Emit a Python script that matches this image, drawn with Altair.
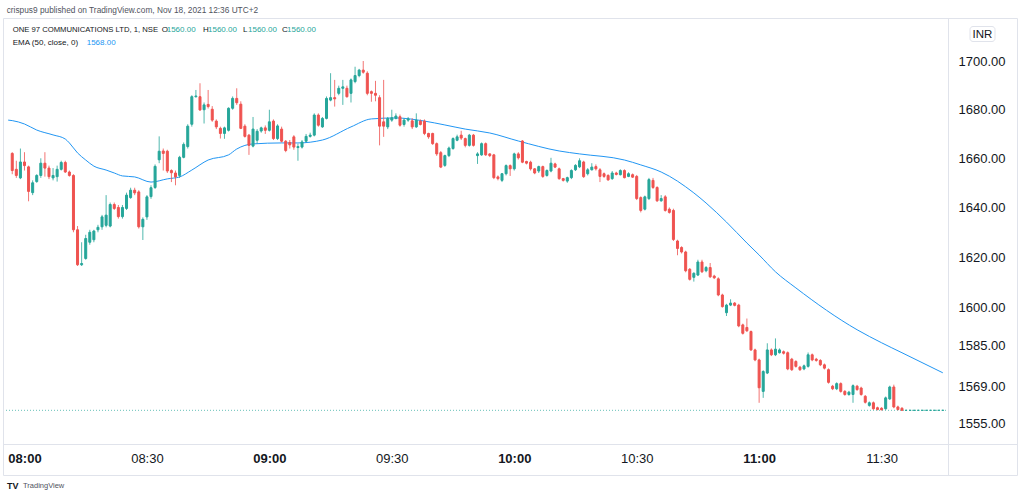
import altair as alt
import pandas as pd

# ---------------- data ----------------
open_ = [
    1662, 1655.5, 1652, 1658.5, 1656.5, 1646, 1650.5, 1653, 1658, 1656,
    1652, 1652.5, 1655.5, 1658.3, 1654.4, 1653, 1631, 1617, 1619.5, 1626,
    1627, 1631, 1632.2, 1632.8, 1632.5, 1641.2, 1640, 1636.3, 1639.6, 1644,
    1647, 1646.3, 1632.2, 1636.2, 1644.4, 1648.1, 1659.4, 1663, 1662.9, 1655,
    1654, 1653, 1660.4, 1664.8, 1674, 1685.4, 1685.4, 1680, 1682.2, 1680.2,
    1675.3, 1672.3, 1670.2, 1671.5, 1680.6, 1684.7, 1682.3, 1673.2, 1669.5, 1665,
    1667.4, 1671.2, 1672.5, 1671.5, 1675.3, 1668.1, 1672, 1667, 1666.5, 1668.8,
    1664.4, 1664.6, 1667, 1669, 1669.5, 1677.8, 1672.9, 1676.4, 1684, 1685,
    1686.8, 1688.9, 1688.9, 1686.8, 1691.7, 1694.2, 1696.5, 1695.2, 1687.5, 1686.8,
    1685, 1675, 1672.9, 1675.7, 1676.4, 1677.1, 1673.9, 1675.7, 1675.4, 1672.9,
    1675.3, 1675.3, 1670.2, 1670.2, 1666, 1662.3, 1657.1, 1661.1, 1664, 1667.4,
    1669.5, 1668.1, 1665.3, 1669.5, 1661.1, 1661.4, 1666, 1661.8, 1661.4, 1652.4,
    1651, 1653.7, 1657, 1655.7, 1661.8, 1667.1, 1658.7, 1658.4, 1655.7, 1654.8,
    1656.6, 1653, 1654.8, 1657.7, 1655.7, 1651.7, 1650.7, 1652.1, 1655.3, 1656.5,
    1658.5, 1653.7, 1655.3, 1656.6, 1655.3, 1653.7, 1653, 1651.7, 1654, 1653.3,
    1655, 1652.6, 1653.3, 1652.6, 1644, 1639.3, 1643.6, 1651, 1648.1, 1642.7,
    1644.3, 1639.3, 1638.8, 1626.5, 1623.9, 1622.1, 1615.2, 1612, 1612.9, 1618.1,
    1614.6, 1615.9, 1612.5, 1611.4, 1605, 1598, 1601, 1601.8, 1601, 1593.2,
    1592.2, 1590.6, 1583.4, 1579.5, 1567.3, 1574.4, 1583.4, 1581.5, 1582.3, 1582.7,
    1582.3, 1579.8, 1578.9, 1576.7, 1576, 1577, 1581.5, 1579.8, 1579.3, 1577.6,
    1575.7, 1569.3, 1568.3, 1570.3, 1567.3, 1566.1, 1566.1, 1569.3, 1568.6, 1565.4,
    1561.9, 1562.9, 1561, 1560.8, 1560.6, 1564.4, 1569, 1561.3, 1560.8,
    1560, 1560, 1560, 1560, 1560, 1560, 1560, 1560, 1560, 1560,
]
high_ = [
    1662.5, 1659, 1664, 1662.5, 1657, 1651, 1653.5, 1660, 1662.5, 1657,
    1656, 1657, 1659, 1659, 1655, 1653.5, 1632.5, 1626, 1629, 1631,
    1631, 1633, 1637, 1645, 1642, 1642, 1641, 1641, 1646, 1648,
    1648, 1647, 1636, 1645, 1649, 1657.5, 1669, 1664, 1663.5, 1655.5,
    1655, 1661, 1666.5, 1674, 1686, 1688.2, 1691, 1683, 1688.2, 1681.5,
    1676, 1673, 1673, 1681, 1685.5, 1688.9, 1683.5, 1674, 1670, 1677,
    1672, 1673, 1673.5, 1680, 1676, 1674, 1673, 1667.5, 1667.5, 1669.5,
    1666, 1667.5, 1670, 1670.5, 1678.5, 1678.5, 1677, 1685.5, 1695.2, 1692.4,
    1690, 1692.4, 1690, 1693, 1697.9, 1697, 1700.3, 1696, 1688, 1692,
    1686, 1692.4, 1677, 1680, 1678.5, 1678, 1676.5, 1677, 1676.5, 1678.5,
    1676, 1676, 1670.5, 1670.5, 1666.5, 1663, 1661.5, 1664.8, 1668.6, 1669.7,
    1671.3, 1668.5, 1670, 1670, 1662.5, 1666.5, 1666.5, 1662, 1661.8, 1653,
    1654, 1657.5, 1657.5, 1662.3, 1662.5, 1667.5, 1659, 1659, 1656, 1657,
    1657, 1655.5, 1660.2, 1658.2, 1656.2, 1652, 1652.5, 1655.5, 1657.6, 1660,
    1659, 1656, 1658, 1657.5, 1656, 1654.2, 1653.5, 1654.8, 1654.5, 1655.5,
    1655.5, 1654.3, 1653.8, 1653.2, 1644.5, 1644.8, 1652, 1652, 1648.6, 1645,
    1645, 1640, 1639.5, 1627, 1624.4, 1622.6, 1615.7, 1614, 1619, 1619,
    1616.5, 1617.7, 1613, 1612, 1605.5, 1601.5, 1603.3, 1602.2, 1601.5, 1593.7,
    1595.7, 1591, 1583.9, 1580, 1575.5, 1586, 1584, 1587.9, 1584, 1583.2,
    1582.8, 1580.3, 1579.4, 1577.2, 1577.7, 1582.4, 1582, 1580.3, 1579.8, 1578.1,
    1576.2, 1569.8, 1570.8, 1570.8, 1567.8, 1567.5, 1570, 1569.8, 1569.1, 1565.9,
    1563.4, 1563.4, 1561.4, 1561.2, 1565.3, 1569.5, 1569.9, 1561.8, 1561.2,
    1560, 1560, 1560, 1560, 1560, 1560, 1560, 1560, 1560, 1560,
]
low_ = [
    1653.5, 1652, 1651.5, 1655, 1642.5, 1645, 1650, 1652, 1652.5, 1651.5,
    1651, 1650.5, 1655, 1654, 1652.5, 1630, 1616.5, 1616.5, 1619, 1625,
    1626, 1630, 1631, 1632, 1632, 1639, 1635.5, 1635.5, 1639, 1643.5,
    1645, 1631.5, 1626.9, 1635, 1643.5, 1647.5, 1658, 1655, 1654, 1650.3,
    1649, 1652, 1660, 1664, 1673, 1685, 1679.5, 1674.3, 1680.5, 1675,
    1672, 1668.1, 1668, 1671, 1680, 1682, 1672, 1668.5, 1661.4, 1664.5,
    1666, 1670.5, 1670, 1671, 1667.5, 1667.5, 1666.5, 1662.5, 1664, 1663.5,
    1659, 1664, 1666.5, 1668.5, 1669, 1673, 1672.5, 1676, 1683.5, 1681.3,
    1686, 1682, 1685, 1683, 1691, 1693.5, 1695, 1686, 1683.3, 1683.5,
    1665.3, 1668.8, 1672, 1675, 1676, 1673, 1673, 1675, 1672, 1672.5,
    1673.5, 1669.5, 1668, 1665.5, 1661, 1656, 1656.5, 1660.5, 1663.5, 1667,
    1667.5, 1664.5, 1664.8, 1664.8, 1657.7, 1661, 1661, 1660.5, 1651.5, 1651,
    1650.3, 1653, 1652.8, 1655, 1659.5, 1658, 1657.5, 1655, 1653.5, 1654,
    1652, 1652.5, 1654.3, 1656, 1651.2, 1650.5, 1650, 1651.5, 1654.8, 1656,
    1652, 1653, 1655, 1655, 1650.3, 1652, 1650.8, 1651.2, 1653, 1653,
    1651.8, 1652.3, 1652, 1643, 1638, 1638.8, 1643, 1647.5, 1642.2, 1642.3,
    1638.3, 1637.5, 1626.5, 1620.8, 1621.5, 1614, 1610.7, 1610.3, 1612.5, 1613.7,
    1614, 1611.7, 1611.3, 1604.5, 1600, 1596.7, 1600.6, 1600.5, 1592.3, 1589.4,
    1590.4, 1583, 1579, 1562.9, 1564.8, 1574, 1581, 1581, 1582, 1581.6,
    1575.5, 1575.2, 1576.5, 1575.2, 1575.5, 1576.5, 1579, 1578.8, 1577.1, 1575.8,
    1570.3, 1567.8, 1567.8, 1566.8, 1565.6, 1565.6, 1562.9, 1567.5, 1565.6, 1562.6,
    1561.4, 1560.2, 1560, 1560, 1560.2, 1564, 1560.8, 1560, 1560,
    1560, 1560, 1560, 1560, 1560, 1560, 1560, 1560, 1560, 1560,
]
close_ = [
    1655, 1653, 1658.5, 1657, 1646.5, 1650, 1653, 1658, 1656, 1652.5,
    1653, 1655.5, 1658.3, 1654.4, 1653, 1631, 1617, 1617.5, 1627.5, 1630,
    1630.5, 1632, 1636.2, 1636.9, 1641.2, 1639.6, 1636.3, 1640, 1645, 1647,
    1645.9, 1632.2, 1635.2, 1644.3, 1648, 1656.7, 1662.9, 1662, 1654.8, 1654.1,
    1652.4, 1660.4, 1665.7, 1673.2, 1685.4, 1685.7, 1679.9, 1682, 1681.3, 1675.7,
    1672.9, 1670.2, 1672.5, 1680.6, 1684.7, 1682.9, 1672.3, 1669, 1665.3, 1672,
    1671.1, 1672.5, 1671.5, 1675, 1668.1, 1673.3, 1667, 1663.2, 1665.5, 1664.6,
    1664.8, 1666.7, 1669, 1669.5, 1677.8, 1673.6, 1676.4, 1684.7, 1685, 1684.5,
    1688.9, 1689.5, 1685.4, 1692.4, 1694.2, 1696.5, 1695.6, 1686.8, 1686.8, 1686,
    1673.2, 1673.2, 1676.4, 1676.7, 1677.4, 1673.6, 1675.7, 1676.2, 1672.9, 1675.7,
    1673.9, 1670.2, 1668.8, 1666, 1661.8, 1656.4, 1661.1, 1664.2, 1668.1, 1668.8,
    1668.3, 1665.3, 1669.5, 1665.3, 1661.8, 1666, 1661.4, 1661.1, 1652.1, 1651.7,
    1653.7, 1657, 1655.7, 1661.8, 1660.2, 1658.4, 1658, 1655.7, 1654, 1656.6,
    1652.6, 1655, 1658, 1656.4, 1651.7, 1651, 1652.1, 1655, 1657.1, 1659,
    1652.5, 1655.3, 1656.4, 1655.7, 1652.6, 1652.6, 1651.2, 1654, 1653.4, 1655,
    1652.1, 1653.7, 1652.3, 1643.6, 1638.8, 1644.3, 1651.3, 1648.1, 1642.7, 1643.6,
    1638.8, 1638, 1627.1, 1623.5, 1622.1, 1614.6, 1611.2, 1613.6, 1618.1, 1614.2,
    1615.9, 1612.2, 1611.8, 1605, 1600.4, 1601, 1601.8, 1600.9, 1592.8, 1589.9,
    1590.9, 1583.4, 1579.5, 1568.7, 1575, 1583.4, 1581.5, 1583.7, 1583.4, 1582.1,
    1576, 1575.7, 1577, 1575.7, 1577.2, 1581.5, 1579.5, 1579.3, 1577.6, 1576.3,
    1570.8, 1568.3, 1570.3, 1567.3, 1566.1, 1567, 1569.5, 1568, 1566.1, 1563.1,
    1562.9, 1560.6, 1560.3, 1560.2, 1564.8, 1569, 1561.3, 1560.3, 1560,
    1560, 1560, 1560, 1560, 1560, 1560, 1560, 1560, 1560, 1560,
]

# EMA(50) line, sampled along the picture (minutes after 08:00, price)
ema_minute = [-4, -3, 0, 3, 7, 10, 11, 13, 15, 17, 20, 22, 24, 27, 31, 35, 38, 41, 45, 50,
              52, 56, 63, 67, 73, 80, 85, 91, 98, 103, 108, 114, 121, 131, 136, 147, 151,
              156, 164, 167, 172, 177, 180, 184, 189, 204, 210, 215, 225]
ema_value = [1675.7, 1675.5, 1674.1, 1671.6, 1669.6, 1667.9, 1666.3, 1662.2, 1659.3, 1656.8,
             1655.2, 1654.0, 1652.8, 1652.4, 1650.3, 1651.6, 1652.4, 1655.2, 1659.3, 1661.4,
             1663.8, 1665.9, 1666.3, 1666.3, 1667.5, 1672.9, 1676.2, 1676.6, 1675.3, 1673.7,
             1672.0, 1670.4, 1667.1, 1663.0, 1661.8, 1659.3, 1657.3, 1654.4, 1645.9, 1641.8,
             1634.1, 1625.7, 1620.9, 1614.2, 1607.8, 1591.3, 1586.2, 1582.3, 1574.5]

y_ticks = [1555, 1569, 1585, 1600, 1620, 1640, 1660, 1680, 1700]
x_tick_minutes = [0, 30, 60, 90, 120, 150, 180, 210]
x_tick_labels = ["08:00", "08:30", "09:00", "09:30", "10:00", "10:30", "11:00", "11:30"]
last_price = 1560.00
ema_last = 1568.00

# ---------------- frames ----------------
times = pd.date_range("2021-11-18 07:57", periods=len(open_), freq="min")
df = pd.DataFrame({
    "time": times.strftime("%H:%M"),
    "minute": (times - pd.Timestamp("2021-11-18 08:00")).total_seconds() / 60.0,
    "open": open_, "high": high_, "low": low_, "close": close_,
})
df["dir"] = ["up" if c >= o else "down" for o, c in zip(df["open"], df["close"])]
ema_df = pd.DataFrame({"minute": ema_minute, "ema": ema_value})
price_df = pd.DataFrame({"price": [last_price]})

UP, DOWN = "#26a69a", "#ef5350"
FONT = "Liberation Sans"
TXT = "#131722"
BORDER = "#e0e3eb"

W, H = 945, 425
xs = alt.Scale(domain=[-4.04, 225.05], nice=False, zero=False)
ys = alt.Scale(type="log", domain=[1547.1, 1718.0], nice=False, zero=False)

label_expr = "[" + ",".join("'%s'" % s for s in x_tick_labels) + "][datum.value / 30]"
x_axis = alt.Axis(values=x_tick_minutes, labelExpr=label_expr, ticks=False, domain=False,
                  grid=False, labelPadding=8, labelFontSize=13, labelFont=FONT,
                  labelColor=TXT, labelOverlap=False, title=None,
                  labelFontWeight={"condition": {"test": "datum.value % 60 === 0", "value": "bold"},
                                   "value": "normal"})
y_axis = alt.Axis(orient="right", values=y_ticks, format=".2f", ticks=False, domain=False,
                  grid=False, labelPadding=10, labelFontSize=13, labelFont=FONT,
                  labelColor=TXT, labelOverlap=False, labelFlush=False, title=None)

color = alt.Color("dir:N", scale=alt.Scale(domain=["up", "down"], range=[UP, DOWN]), legend=None)
stroke = alt.Stroke("dir:N", scale=alt.Scale(domain=["up", "down"], range=[UP, DOWN]), legend=None)

wicks = alt.Chart(df).mark_rule(strokeWidth=1, opacity=0.8).encode(
    x=alt.X("minute:Q", scale=xs, axis=x_axis),
    y=alt.Y("low:Q", scale=ys, axis=y_axis),
    y2="high:Q",
    color=color,
)
bodies = alt.Chart(df).mark_bar(size=2, strokeWidth=1).encode(
    x=alt.X("minute:Q", scale=xs, axis=x_axis),
    y=alt.Y("open:Q", scale=ys, axis=y_axis),
    y2="close:Q",
    color=color,
    stroke=stroke,
    tooltip=["time:N", "open:Q", "high:Q", "low:Q", "close:Q"],
)
ema_line = alt.Chart(ema_df).mark_line(color="#2196f3", strokeWidth=1, interpolate="monotone").encode(
    x=alt.X("minute:Q", scale=xs, axis=x_axis),
    y=alt.Y("ema:Q", scale=ys, axis=y_axis),
)
price_line = alt.Chart(price_df).mark_rule(color=UP, strokeWidth=1, strokeDash=[1, 2], opacity=0.7).encode(
    y=alt.Y("price:Q", scale=ys, axis=y_axis),
    x=alt.value(0), x2=alt.value(W),
)

one = alt.Data(values=[{"k": 1}])


def frame_rule(x, x2, y, y2):
    return alt.Chart(one).mark_rule(color=BORDER, strokeWidth=1).encode(
        x=alt.value(x), x2=alt.value(x2), y=alt.value(y), y2=alt.value(y2))


def txt(s, x, y, size, col=TXT, weight="normal", align="left"):
    return alt.Chart(one).mark_text(text=s, font=FONT, fontSize=size, color=col,
                                    fontWeight=weight, align=align, baseline="middle").encode(
        x=alt.value(x), y=alt.value(y))


# white strip that trims the first time label at the frame's left edge
left_mask = alt.Chart(one).mark_rect(fill="white").encode(
    x=alt.value(-3), x2=alt.value(0.5), y=alt.value(H + 1), y2=alt.value(456))
box = alt.Chart(one).mark_rect(filled=False, stroke=BORDER, strokeWidth=1).encode(
    x=alt.value(0.5), x2=alt.value(1014.5), y=alt.value(-0.5), y2=alt.value(456.5))
divider = frame_rule(W + 0.5, W + 0.5, -0.5, 456.5)
xaxis_line = frame_rule(0.5, 1014.5, H + 0.5, H + 0.5)
inr_box = alt.Chart(one).mark_rect(filled=True, fill="white", stroke=BORDER, strokeWidth=1,
                                   cornerRadius=3).encode(
    x=alt.value(967), x2=alt.value(992), y=alt.value(7.5), y2=alt.value(22.5))
inr_txt = txt("INR", 979.5, 15.5, 11.5, align="center")

hdr = txt("crispus9 published on TradingView.com, Nov 18, 2021 12:36 UTC+2", 3.7, -8.3, 8.3, "#50535e")
leg = [
    txt("ONE 97 COMMUNICATIONS LTD, 1, NSE", 9.7, 11, 7.7),
    txt("O", 158.7, 11, 8), txt("%.2f" % open_[-1], 163.7, 11, 8, UP),
    txt("H", 200, 11, 8), txt("%.2f" % high_[-1], 205, 11, 8, UP),
    txt("L", 240, 11, 8), txt("%.2f" % low_[-1], 245, 11, 8, UP),
    txt("C", 279, 11, 8), txt("%.2f" % close_[-1], 284, 11, 8, UP),
    txt("EMA (50, close, 0)", 9.7, 23.7, 8),
    txt("%.2f" % ema_last, 83.7, 23.7, 8, "#2196f3"),
]
logo = [txt("TV", 4, 467, 9, "#131722", "bold"), txt("TradingView", 20, 467, 7.5, "#50535e")]

chart = alt.layer(
    price_line, ema_line, wicks, bodies, left_mask,
    box, divider, xaxis_line, inr_box, inr_txt, hdr, *leg, *logo,
).properties(
    width=W, height=H,
    autosize=alt.AutoSizeParams(type="none"),
    padding={"left": 3, "top": 19, "right": 76, "bottom": 56},
    background="white",
).configure_view(stroke=None)

chart.save("out.html", embed_options={"renderer": "svg", "actions": False})
